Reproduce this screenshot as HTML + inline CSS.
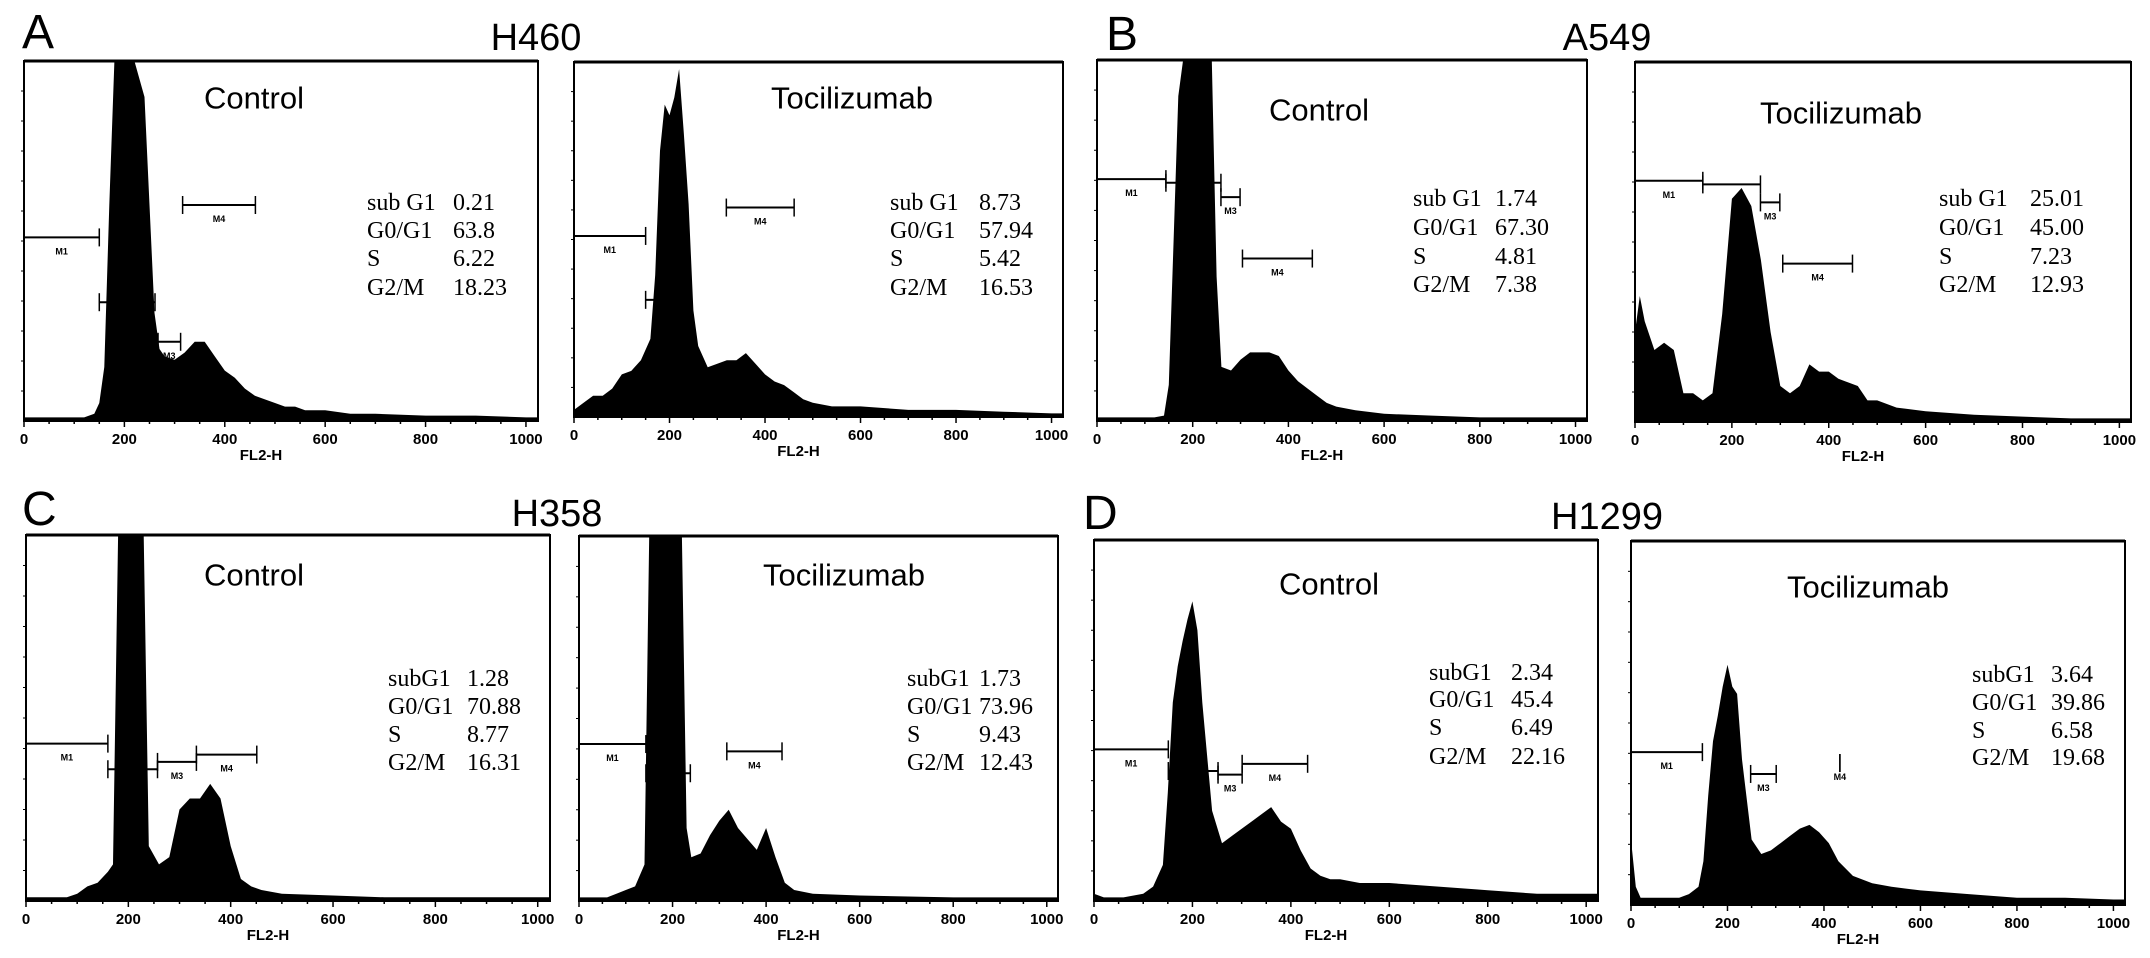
<!DOCTYPE html>
<html><head><meta charset="utf-8"><style>
html,body{margin:0;padding:0;background:#fff;}
svg{display:block;}
.lt{font-family:"Liberation Sans",Arial,sans-serif;}
.st{font-family:"Liberation Serif","Times New Roman",serif;font-size:24px;}
</style></head><body>
<svg id="fig" width="2150" height="958" viewBox="0 0 2150 958" xmlns="http://www.w3.org/2000/svg">
<text class="lt" x="22" y="48" font-size="48">A</text>
<text class="lt" x="536" y="50" font-size="38" text-anchor="middle">H460</text>
<text class="lt" x="1106" y="50" font-size="48">B</text>
<text class="lt" x="1607" y="50" font-size="38" text-anchor="middle">A549</text>
<text class="lt" x="22" y="525" font-size="48">C</text>
<text class="lt" x="557" y="526" font-size="38" text-anchor="middle">H358</text>
<text class="lt" x="1083" y="529" font-size="48">D</text>
<text class="lt" x="1607" y="529" font-size="38" text-anchor="middle">H1299</text>
</svg>
<script>
const tickValues=[0,200,400,600,800,1000];
const statNames=[["sub G1","G0/G1","S","G2/M"],["subG1","G0/G1","S","G2/M"]];
// A: H460
const a1X=[0,20,40,60,80,100,120,140,150,160,170,180,200,220,240,250,260,270,280,300,320,340,360,380,400,420,440,460,480,500,520,540,560,600,650,700,800,900,1000,1024];
const a1Y=[1,1,1,1,1,1,1,2,5,15,60,100,100,100,90,60,30,20,18,17,19,22,22,18,14,12,9,7,6,5,4,4,3,3,2,2,1.5,1.5,1,1];
const a1Stats=["0.21","63.8","6.22","18.23"];
const a1Gates=[[0,150,51,"M1"],[150,261,33,""],[267,312,22,"M3"],[316,461,60,"M4"]];
const a2X=[0,20,40,60,80,100,120,140,160,170,180,190,200,210,220,230,240,250,260,280,300,320,340,360,380,400,420,440,460,480,500,540,600,700,800,900,1000,1024];
const a2Y=[2,4,6,6,8,12,13,16,22,40,75,88,85,90,98,80,60,30,20,14,15,16,16,18,15,12,10,9,7,5,4,3,3,2,2,1.5,1,1];
const a2Stats=["8.73","57.94","5.42","16.53"];
const a2Gates=[[0,150,51,"M1"],[150,176,33,""],[319,461,59,"M4"]];
// B: A549
const b1X=[0,20,40,60,80,100,120,140,150,160,170,180,200,220,240,250,260,280,300,320,340,360,380,400,420,440,460,480,500,540,600,700,800,1000,1024];
const b1Y=[1,1,1,1,1,1,1,1.5,10,50,90,100,100,100,100,40,15,14,17,19,19,19,18,14,11,9,7,5,4,3,2,1.5,1,1,1];
const b1Stats=["1.74","67.30","4.81","7.38"];
const b1Gates=[[0,144,67,"M1"],[144,259,66,""],[259,299,62,"M3"],[304,450,45,"M4"]];
const b2X=[0,10,20,40,60,80,100,120,140,160,180,200,220,240,260,280,300,320,340,360,380,400,420,440,460,480,500,540,600,700,800,900,1000,1024];
const b2Y=[25,35,28,20,22,20,8,8,6,8,30,62,65,60,45,25,10,8,10,16,14,14,12,11,10,6,6,4,3,2,1.5,1,1,1];
const b2Stats=["25.01","45.00","7.23","12.93"];
const b2Gates=[[0,140,67,"M1"],[140,259,66,""],[259,299,61,"M3"],[305,449,44,"M4"]];
// C: H358
const c1X=[0,20,40,60,80,100,120,140,160,170,180,200,220,230,240,260,280,300,320,340,360,380,400,420,440,460,500,600,700,1000,1024];
const c1Y=[1,1,1,1,1,2,4,5,8,10,100,100,100,100,15,10,12,25,28,28,32,28,15,6,4,3,2,1.5,1,1,1];
const c1Stats=["1.28","70.88","8.77","16.31"];
const c1Gates=[[0,160,43,"M1"],[160,257,36,""],[257,333,38,"M3"],[333,451,40,"M4"]];
const c2X=[0,20,40,60,80,100,120,140,150,220,230,240,260,280,300,320,340,360,380,400,420,440,460,500,600,800,1000,1024];
const c2Y=[1,1,1,1,2,3,4,10,100,100,20,12,13,18,22,25,20,17,14,20,12,5,3,2,1.5,1,1,1];
const c2Stats=["1.73","73.96","9.43","12.43"];
const c2Gates=[[0,143,43,"M1"],[143,238,35,""],[316,434,41,"M4"]];
// D: H1299
const d1X=[0,20,60,100,120,140,150,160,170,180,190,200,210,220,240,260,280,300,320,340,360,380,400,420,440,460,480,500,540,600,700,800,900,1000,1024];
const d1Y=[2,1,1,2,4,10,30,55,65,72,78,83,75,55,25,16,18,20,22,24,26,22,20,14,9,7,6,6,5,5,4,3,2,2,2];
const d1Stats=["2.34","45.4","6.49","22.16"];
const d1Gates=[[0,151,42,"M1"],[151,252,36,""],[252,301,35,"M3"],[301,434,38,"M4"]];
const d2X=[0,10,20,60,100,120,140,150,160,170,180,190,200,210,220,230,250,270,290,310,330,350,370,390,410,430,460,500,540,600,700,800,900,1000,1024];
const d2Y=[18,5,2,2,2,3,5,12,30,45,52,60,66,60,58,40,18,14,15,17,19,21,22,20,17,12,8,6,5,4,3,2,2,1.5,1.5];
const d2Stats=["3.64","39.86","6.58","19.68"];
const d2Gates=[[0,148,42,"M1"],[248,301,36,"M3"],[433,433,39,"M4"]];

const panels=[
 {id:"h460-control",box:[24,61,538,421],title:"Control",tx:254,ty:98,sx:367,vx:453,rows:[203,231,259,288],xs:a1X,ys:a1Y,stats:a1Stats,gates:a1Gates,names:0},
 {id:"h460-tocilizumab",box:[574,62,1063,417],title:"Tocilizumab",tx:852,ty:98,sx:890,vx:979,rows:[203,231,259,288],xs:a2X,ys:a2Y,stats:a2Stats,gates:a2Gates,names:0},
 {id:"a549-control",box:[1097,60,1587,421],title:"Control",tx:1319,ty:110,sx:1413,vx:1495,rows:[199,228,257,285],xs:b1X,ys:b1Y,stats:b1Stats,gates:b1Gates,names:0},
 {id:"a549-tocilizumab",box:[1635,62,2131,422],title:"Tocilizumab",tx:1841,ty:113,sx:1939,vx:2030,rows:[199,228,257,285],xs:b2X,ys:b2Y,stats:b2Stats,gates:b2Gates,names:0},
 {id:"h358-control",box:[26,535,550,901],title:"Control",tx:254,ty:575,sx:388,vx:467,rows:[679,707,735,763],xs:c1X,ys:c1Y,stats:c1Stats,gates:c1Gates,names:1},
 {id:"h358-tocilizumab",box:[579,536,1058,901],title:"Tocilizumab",tx:844,ty:575,sx:907,vx:979,rows:[679,707,735,763],xs:c2X,ys:c2Y,stats:c2Stats,gates:c2Gates,names:1},
 {id:"h1299-control",box:[1094,540,1598,901],title:"Control",tx:1329,ty:584,sx:1429,vx:1511,rows:[673,700,728,757],xs:d1X,ys:d1Y,stats:d1Stats,gates:d1Gates,names:1},
 {id:"h1299-tocilizumab",box:[1631,541,2125,905],title:"Tocilizumab",tx:1868,ty:587,sx:1972,vx:2051,rows:[675,703,731,758],xs:d2X,ys:d2Y,stats:d2Stats,gates:d2Gates,names:1}
];
const NS="http://www.w3.org/2000/svg";
const svg=document.getElementById("fig");
function mk(tag,attrs,parent){const e=document.createElementNS(NS,tag);for(const k in attrs)e.setAttribute(k,attrs[k]);(parent||svg).appendChild(e);return e;}
panels.forEach((p,pi)=>{
 const [L,T,R,B]=p.box;
 const xS=u=>L+u/1024*(R-L);
 const yS=v=>B-v/100*(B-T);
 const g=mk("g",{});
 
 
 const cp=mk("clipPath",{id:"cp"+pi},g);
 mk("rect",{x:L,y:T,width:R-L,height:B-T},cp);
 let d="M"+xS(p.xs[0])+","+B;
 p.xs.forEach((u,i)=>{d+=" L"+xS(u).toFixed(1)+","+yS(p.ys[i]).toFixed(1);});
 d+=" L"+xS(p.xs[p.xs.length-1])+","+B+" Z";
 const h=mk("path",{d:d,fill:"#000","clip-path":"url(#cp"+pi+")"},g);
 
 
 const fr=mk("rect",{x:L,y:T,width:R-L,height:B-T,fill:"none",stroke:"#000","stroke-width":2},g);
 
 
 mk("line",{x1:L,y1:T,x2:R,y2:T,stroke:"#000","stroke-width":3},g);
 for(let k=1;k<12;k++){mk("line",{x1:L-3,y1:B-k*(B-T)/12,x2:L,y2:B-k*(B-T)/12,stroke:"#000","stroke-width":1},g);}
 for(let u=0;u<=1000;u+=50){mk("line",{x1:xS(u),y1:B,x2:xS(u),y2:B+(u%200===0?6:3),stroke:"#000","stroke-width":1.5},g);}
 tickValues.forEach(v=>{
  const t=mk("text",{x:xS(v),y:B+23,"text-anchor":"middle","font-size":15,"font-weight":"bold",class:"lt"},g);
  t.textContent=v;
  
  
 });
 const xl=mk("text",{x:(L+R)/2-20,y:B+39,"text-anchor":"middle","font-size":15,"font-weight":"bold",class:"lt"},g);
 xl.textContent="FL2-H";
 
 
 const tt=mk("text",{x:p.tx,y:p.ty,"text-anchor":"middle","dominant-baseline":"central","font-size":31,class:"lt"},g);
 tt.textContent=p.title;
 
 
 p.stats.forEach((v,i)=>{
  const n=mk("text",{x:p.sx,y:p.rows[i],"dominant-baseline":"central",class:"st"},g);
  n.textContent=statNames[p.names][i];
  
  
  const s=mk("text",{x:p.vx,y:p.rows[i],"dominant-baseline":"central",class:"st"},g);
  s.textContent=v;
  
  
 });
 p.gates.forEach(gt=>{
  const x1=xS(gt[0]),x2=xS(gt[1]),y=yS(gt[2]);
  const gg=mk("g",{},g);
  
  
  if(x2>x1)mk("line",{x1:x1,y1:y,x2:x2,y2:y,stroke:"#000","stroke-width":2},gg);
  mk("line",{x1:x2,y1:y-9,x2:x2,y2:y+9,stroke:"#000","stroke-width":1.5},gg);
  if(gt[0]>0)mk("line",{x1:x1,y1:y-9,x2:x1,y2:y+9,stroke:"#000","stroke-width":1.5},gg);
  if(gt[3]){const lb=mk("text",{x:(x1+x2)/2,y:y+17,"text-anchor":"middle","font-size":9,"font-weight":"bold",class:"lt"},gg);lb.textContent=gt[3];}
 });
});
</script>
</body></html>
